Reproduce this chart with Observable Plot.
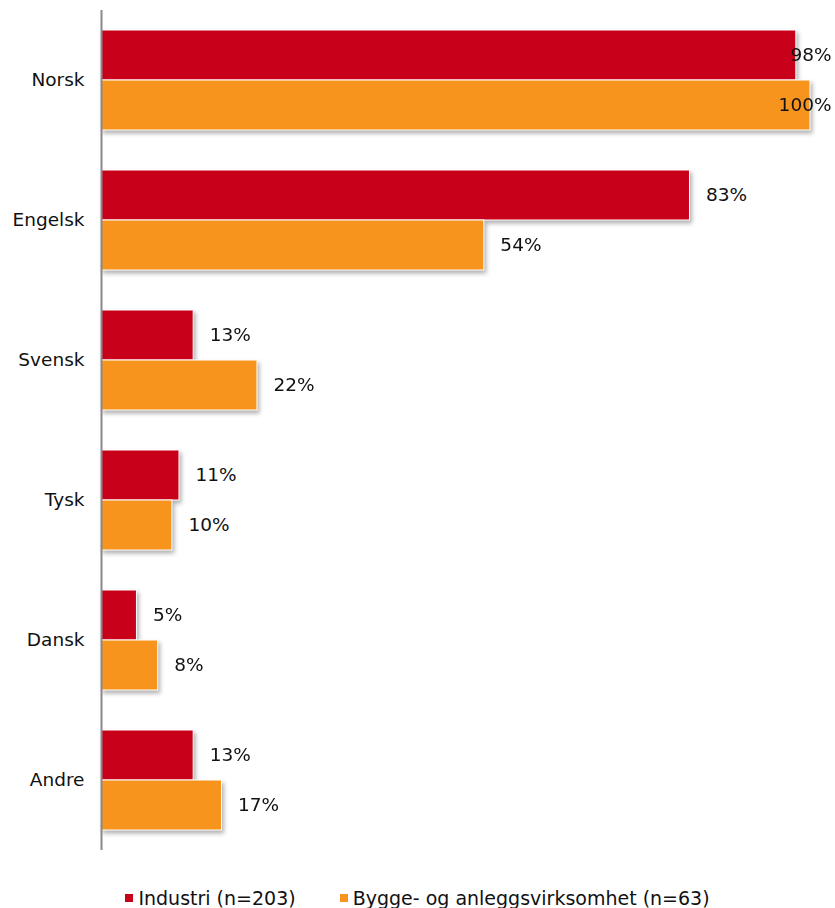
<!DOCTYPE html>
<html>
<head>
<meta charset="utf-8">
<script src="https://cdn.jsdelivr.net/npm/d3@7"></script>
<script src="https://cdn.jsdelivr.net/npm/@observablehq/plot@0.6"></script>
<style>
  body { margin: 0; background: #fff; font-family: "DejaVu Sans", Verdana, sans-serif; }
  #legend { display: flex; justify-content: center; gap: 44px; padding-top: 28px; height: 20px; font-size: 19px; color: #111; line-height: 20px; }
  #legend .item { display: flex; align-items: center; }
  #legend .sw { width: 8px; height: 8px; margin-right: 5px; display: inline-block; }
</style>
</head>
<body>
<div id="chart"></div>
<div id="legend"></div>
<script>
const categories = ["Norsk", "Engelsk", "Svensk", "Tysk", "Dansk", "Andre"];
const series = ["Industri (n=203)", "Bygge- og anleggsvirksomhet (n=63)"];
const industri = [98, 83, 13, 11, 5, 13];
const bygge = [100, 54, 22, 10, 8, 17];
const colors = ["#C8001A", "#F7941E"];

const data = categories.flatMap((c, i) => [
  {cat: c, series: series[0], value: industri[i]},
  {cat: c, series: series[1], value: bygge[i]}
]);

const fmt = d => d.value + "%";

const chart = Plot.plot({
  width: 835,
  height: 860,
  marginLeft: 101,
  marginRight: 25,
  marginTop: 10,
  marginBottom: 10,
  style: {fontFamily: "DejaVu Sans, Verdana, sans-serif", fontSize: "18.5px", color: "#111", background: "#fff"},
  x: {domain: [0, 100], axis: null},
  y: {domain: series, axis: null, paddingInner: 0, paddingOuter: 0.4},
  fy: {domain: categories, padding: 0, label: null, axis: "left", tickSize: 0, tickPadding: 17},
  color: {domain: series, range: colors},
  marks: [
    Plot.barX(data, {x: "value", y: "series", fy: "cat", fill: "series", stroke: "white", strokeWidth: 1}),
    Plot.text(data.filter(d => d.value < 95), {x: "value", y: "series", fy: "cat", text: fmt, textAnchor: "start", dx: 16, fill: "#111"}),
    Plot.text(data.filter(d => d.value >= 95), {frameAnchor: "right", y: "series", fy: "cat", text: fmt, textAnchor: "end", dx: 21, fill: "#111"}),
    Plot.ruleX([0], {stroke: "#888", strokeWidth: 2})
  ]
});
document.getElementById("chart").appendChild(chart);
chart.querySelectorAll('g[aria-label="bar"]').forEach(g => {
  g.style.filter = "drop-shadow(2px 3px 2px rgba(0,0,0,0.3))";
});

const legend = document.getElementById("legend");
series.forEach((s, i) => {
  const item = document.createElement("span");
  item.className = "item";
  const sw = document.createElement("span");
  sw.className = "sw";
  sw.style.background = colors[i];
  item.appendChild(sw);
  item.appendChild(document.createTextNode(s));
  legend.appendChild(item);
});
</script>
</body>
</html>
